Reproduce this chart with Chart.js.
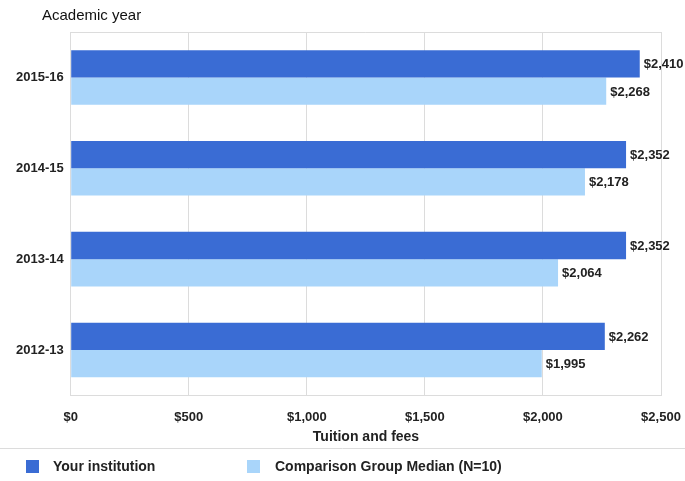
<!DOCTYPE html>
<html>
<head>
<meta charset="utf-8">
<script src="https://cdn.jsdelivr.net/npm/chart.js@4"></script>
<style>
  html, body { margin: 0; padding: 0; background: #fff; }
  #wrap { width: 685px; height: 481px; position: relative; }
</style>
</head>
<body>
<div id="wrap"><canvas id="myChart" width="685" height="481"></canvas></div>
<script>
var years = ["2015-16", "2014-15", "2013-14", "2012-13"];
var yourInstitution = [2410, 2352, 2352, 2262];
var groupMedian = [2268, 2178, 2064, 1995];
var xTicks = [0, 500, 1000, 1500, 2000, 2500];
var legendX = [26, 247];

var font = "'Liberation Sans', Arial, sans-serif";

function money(v) {
  return "$" + v.toLocaleString("en-US");
}

// value labels, captions, top rule and the legend row
var extras = {
  id: "extras",
  afterDatasetsDraw: function (chart) {
    var ctx = chart.ctx;
    var area = chart.chartArea;
    ctx.save();
    ctx.font = "bold 13px " + font;
    ctx.fillStyle = "#222";
    ctx.textBaseline = "middle";
    chart.data.datasets.forEach(function (ds, i) {
      chart.getDatasetMeta(i).data.forEach(function (bar, j) {
        ctx.fillText(money(ds.data[j]), bar.x + 4, bar.y + 1);
      });
    });

    ctx.strokeStyle = "#dcdcdc";
    ctx.lineWidth = 1;
    ctx.beginPath();
    ctx.moveTo(area.left, Math.round(area.top) + 0.5);
    ctx.lineTo(area.right, Math.round(area.top) + 0.5);
    ctx.moveTo(0, 448.5);
    ctx.lineTo(685, 448.5);
    ctx.stroke();

    ctx.font = "15px " + font;
    ctx.fillStyle = "#111";
    ctx.fillText("Academic year", 42, 16);

    ctx.font = "bold 14px " + font;
    ctx.fillStyle = "#222";
    ctx.textAlign = "center";
    ctx.fillText("Tuition and fees", 366, 437);
    ctx.textAlign = "left";

    chart.data.datasets.forEach(function (ds, i) {
      ctx.fillStyle = ds.backgroundColor;
      ctx.fillRect(legendX[i], 460, 13, 13);
      ctx.fillStyle = "#222";
      ctx.fillText(ds.label, legendX[i] + (i == 0 ? 27 : 28), 467);
    });
    ctx.restore();
  },
};

new Chart(document.getElementById("myChart"), {
  type: "bar",
  data: {
    labels: years,
    datasets: [
      {
        label: "Your institution",
        data: yourInstitution,
        backgroundColor: "#3a6cd4",
      },
      {
        label: "Comparison Group Median (N=10)",
        data: groupMedian,
        backgroundColor: "#a9d5fa",
      },
    ],
  },
  options: {
    indexAxis: "y",
    responsive: false,
    animation: false,
    layout: { padding: { left: 9, right: 4, top: 32, bottom: 42 } },
    datasets: {
      bar: { categoryPercentage: 0.6, barPercentage: 1.0 },
    },
    scales: {
      x: {
        min: 0,
        max: 2500,
        afterBuildTicks: function (axis) {
          axis.ticks = xTicks.map(function (v) { return { value: v }; });
        },
        afterFit: function (axis) {
          axis.paddingRight = 24;
        },
        ticks: {
          color: "#222",
          font: { family: font, size: 13, weight: "bold" },
          callback: function (v) { return money(v); },
          padding: 14,
          maxRotation: 0,
        },
        grid: { color: "#dcdcdc", drawTicks: false },
        border: { display: true, color: "#dcdcdc" },
      },
      y: {
        ticks: {
          color: "#222",
          font: { family: font, size: 13, weight: "bold" },
          padding: 7,
        },
        grid: { display: false, drawTicks: false, tickLength: 0 },
        border: { display: true, color: "#dcdcdc" },
      },
    },
    plugins: {
      legend: { display: false },
      tooltip: { enabled: false },
    },
  },
  plugins: [extras],
});
</script>
</body>
</html>
